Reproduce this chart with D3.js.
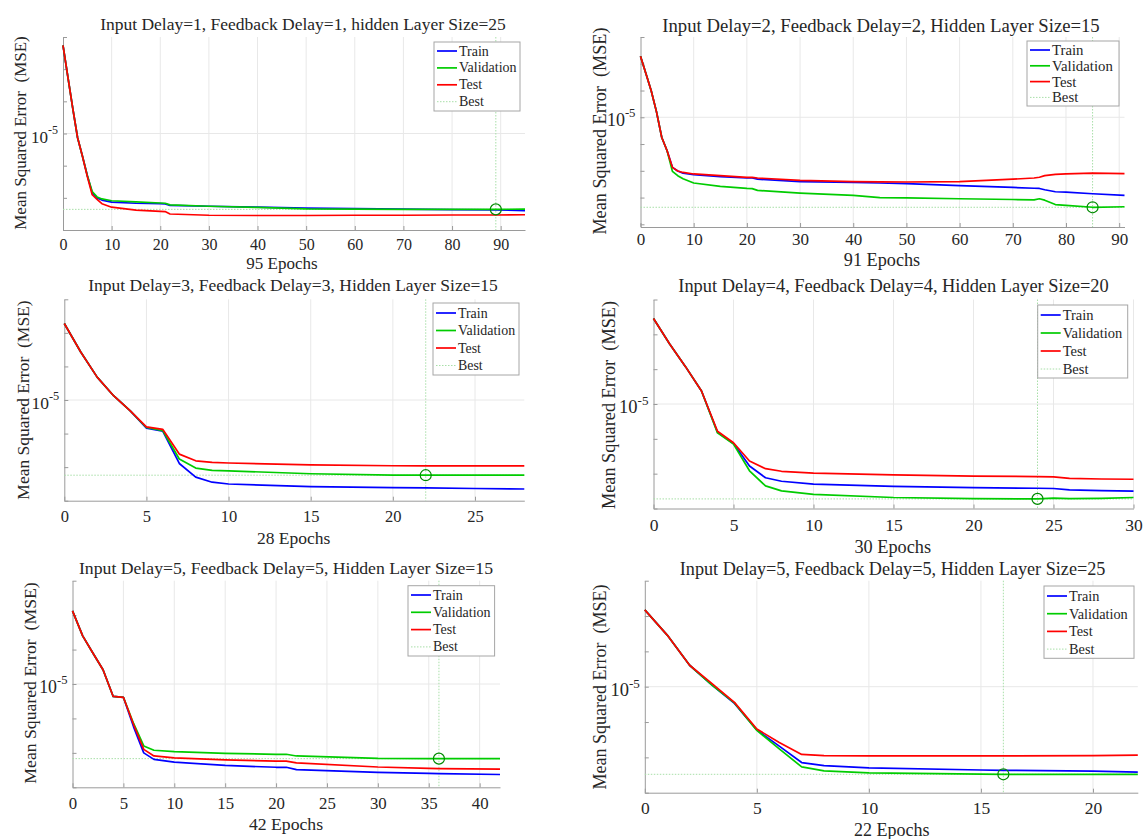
<!DOCTYPE html>
<html>
<head>
<meta charset="utf-8">
<script src="https://cdn.jsdelivr.net/npm/d3@7"></script>
<style>
  body { margin: 0; background: #fff; }
  text { font-family: "Liberation Serif", "Times New Roman", serif; fill: #262626; }
</style>
</head>
<body>
<svg id="chart" width="1145" height="839"></svg>
<script>
// MSE values are written in units of 1e-6
const UNIT = 1e-6;

const titles = [
  'Input Delay=1, Feedback Delay=1, hidden Layer Size=25',
  'Input Delay=2, Feedback Delay=2, Hidden Layer Size=15',
  'Input Delay=3, Feedback Delay=3, Hidden Layer Size=15',
  'Input Delay=4, Feedback Delay=4, Hidden Layer Size=20',
  'Input Delay=5, Feedback Delay=5, Hidden Layer Size=15',
  'Input Delay=5, Feedback Delay=5, Hidden Layer Size=25'
];
const epochCounts = [95, 91, 28, 30, 42, 22];
const bestEpochs = [89, 85, 22, 24, 36, 16];
const xTickSteps = [10, 10, 5, 5, 5, 5];
// log10 limits of each y axis
const yExpLimits = [[-5.3, -4.7], [-5.41, -4.7], [-5.3, -4.7], [-5.3, -4.7], [-5.3, -4.7], [-5.3, -4.7]];
const seriesNames = ['Train', 'Validation', 'Test', 'Best'];

const p1Epochs = [0,1,2,3,4,5,6,7,8,10,15,20,21,22,30,40,50,60,70,80,89,95];
const p1Train  = [18.8,15.0,12.0,9.7,8.5,7.4,6.55,6.3,6.21,6.12,6.07,6.05,6.04,5.98,5.94,5.90,5.86,5.84,5.82,5.80,5.79,5.76];
const p1Val    = [18.8,15.0,12.0,9.7,8.5,7.4,6.6,6.35,6.26,6.18,6.13,6.08,6.07,6.00,5.94,5.89,5.83,5.82,5.81,5.81,5.81,5.82];
const p1Test   = [18.8,15.0,12.0,9.7,8.5,7.35,6.45,6.24,6.05,5.90,5.78,5.73,5.72,5.62,5.57,5.56,5.56,5.57,5.57,5.58,5.58,5.59];

const p2Epochs = [0,1,2,3,4,5,6,7,8,10,15,20,21,22,30,40,45,50,60,70,74,75,76,78,80,85,91];
const p2Train  = [16.9,14.6,12.6,10.5,8.4,7.5,6.5,6.3,6.18,6.10,6.00,5.93,5.93,5.87,5.75,5.71,5.68,5.65,5.55,5.47,5.43,5.42,5.36,5.27,5.25,5.18,5.11];
const p2Val    = [16.9,14.6,12.6,10.5,8.4,7.5,6.28,6.05,5.89,5.68,5.52,5.42,5.41,5.33,5.21,5.11,5.01,5.00,4.96,4.93,4.91,4.96,4.90,4.72,4.69,4.61,4.63];
const p2Test   = [16.9,14.6,12.6,10.5,8.4,7.5,6.5,6.3,6.22,6.14,6.05,5.96,5.96,5.93,5.81,5.75,5.74,5.73,5.75,5.87,5.93,5.97,6.05,6.12,6.15,6.18,6.16];

const p3Epochs = [0,1,2,3,4,5,6,7,8,9,10,15,20,22,25,28];
const p3Train  = [16.9,13.9,11.7,10.3,9.3,8.25,8.07,6.47,5.89,5.69,5.62,5.52,5.48,5.47,5.45,5.43];
const p3Val    = [16.9,13.9,11.7,10.3,9.3,8.28,8.10,6.67,6.27,6.17,6.15,6.03,5.97,5.97,5.97,5.97];
const p3Test   = [16.9,13.9,11.7,10.3,9.3,8.32,8.17,6.90,6.59,6.52,6.49,6.41,6.37,6.36,6.36,6.36];

const p4Epochs = [0,1,2,3,4,5,6,7,8,10,15,20,24,25,26,28,30];
const p4Train  = [17.6,14.9,12.8,10.9,8.3,7.7,6.64,6.14,6.0,5.89,5.8,5.75,5.73,5.72,5.67,5.64,5.62];
const p4Val    = [17.6,14.9,12.8,10.9,8.26,7.67,6.43,5.82,5.63,5.5,5.39,5.35,5.34,5.37,5.35,5.36,5.39];
const p4Test   = [17.6,14.9,12.8,10.9,8.35,7.74,6.86,6.52,6.41,6.33,6.26,6.21,6.19,6.18,6.12,6.09,6.08];

const p5Epochs = [0,1,2,3,4,5,6,7,8,10,15,20,21,22,30,35,36,42];
const p5Train  = [16.3,13.8,12.3,11.0,9.2,9.15,7.51,6.31,6.04,5.93,5.80,5.73,5.73,5.64,5.54,5.50,5.49,5.46];
const p5Val    = [16.3,13.8,12.3,11.0,9.2,9.15,7.68,6.61,6.42,6.36,6.29,6.25,6.25,6.18,6.08,6.07,6.07,6.07];
const p5Test   = [16.3,13.8,12.3,11.0,9.2,9.15,7.63,6.46,6.18,6.10,6.02,5.97,5.97,5.90,5.74,5.69,5.68,5.66];

const p6Epochs = [0,1,2,3,4,5,6,7,8,10,15,16,20,22];
const p6Train  = [16.5,14.0,11.5,10.1,8.97,7.54,6.79,6.10,5.98,5.89,5.81,5.80,5.77,5.73];
const p6Val    = [16.5,14.0,11.5,10.1,9.0,7.52,6.67,5.93,5.78,5.70,5.66,5.65,5.65,5.65];
const p6Test   = [16.5,14.0,11.5,10.2,9.03,7.59,6.95,6.43,6.38,6.37,6.37,6.37,6.38,6.40];

const allEpochs = [p1Epochs, p2Epochs, p3Epochs, p4Epochs, p5Epochs, p6Epochs];
const allTrain = [p1Train, p2Train, p3Train, p4Train, p5Train, p6Train];
const allVal = [p1Val, p2Val, p3Val, p4Val, p5Val, p6Val];
const allTest = [p1Test, p2Test, p3Test, p4Test, p5Test, p6Test];

// page layout of each sub-plot (pixels)
const layout = [
  {l: 63,   t: 37,  r: 525,  b: 230, titleX: 303, titleY: 24,  titleFs: 17.5, fs: 16, labFs: 17, tickY: 244, labX: 282, labY: 263.5, yLabX: 20,  yLabY: 133,
   leg: {x: 434, y: 42, w: 86, h: 69, row0: 51, step: 16.9, fs: 14}},
  {l: 640.5, t: 37, r: 1124.5, b: 227, titleX: 881, titleY: 25, titleFs: 18.7, fs: 17, labFs: 18.2, tickY: 239.5, labX: 882, labY: 259.5, yLabX: 600, yLabY: 131,
   leg: {x: 1027, y: 41, w: 92, h: 65, row0: 50, step: 15.8, fs: 14.8}},
  {l: 64.3, t: 299.3, r: 524.3, b: 500.7, titleX: 293, titleY: 285, titleFs: 17.5, fs: 16.5, labFs: 17.5, tickY: 516.7, labX: 293.6, labY: 538, yLabX: 23, yLabY: 400,
   leg: {x: 433, y: 303, w: 86, h: 72, row0: 313, step: 17.5, fs: 13.9}},
  {l: 653.5, t: 299.5, r: 1133.5, b: 508.5, titleX: 893.5, titleY: 286, titleFs: 18.4, fs: 17.5, labFs: 18.3, tickY: 525, labX: 892.8, labY: 547, yLabX: 609, yLabY: 405,
   leg: {x: 1037.7, y: 305, w: 90, h: 73, row0: 315, step: 18, fs: 14.5}},
  {l: 72.5, t: 580.7, r: 500, b: 787.3, titleX: 286, titleY: 568, titleFs: 17.7, fs: 16.8, labFs: 17.7, tickY: 802.7, labX: 286, labY: 824, yLabX: 30, yLabY: 683,
   leg: {x: 408, y: 585.7, w: 86.6, h: 70.3, row0: 595, step: 17.3, fs: 14}},
  {l: 644.8, t: 580.7, r: 1137.8, b: 792.7, titleX: 892.6, titleY: 569, titleFs: 18.2, fs: 17.5, labFs: 18, tickY: 808, labX: 891.7, labY: 830, yLabX: 600, yLabY: 687,
   leg: {x: 1044, y: 586, w: 90, h: 72.3, row0: 596, step: 17.7, fs: 14.3}}
];

const colors = {Train: '#0000ff', Validation: '#00cc00', Test: '#ff0000', Best: '#a8dfa8'};
const svg = d3.select('#chart');

layout.forEach((p, i) => {
  const g = svg.append('g');
  const x = d3.scaleLinear().domain([0, epochCounts[i]]).range([p.l, p.r]);
  const [e0, e1] = yExpLimits[i];
  const y = d3.scaleLog().domain([Math.pow(10, e0), Math.pow(10, e1)]).range([p.b, p.t]);

  const xTicks = d3.range(0, epochCounts[i] + 0.001, xTickSteps[i]);
  const yTicks = d3.range(Math.ceil(e0 * 10 - 1e-6), Math.floor(e1 * 10 + 1e-6) + 1).map(k => Math.pow(10, k / 10));

  // grid
  g.selectAll('.vgrid').data(xTicks.filter(d => d > 0)).join('line')
    .attr('x1', d => x(d)).attr('x2', d => x(d)).attr('y1', p.t).attr('y2', p.b)
    .attr('stroke', '#e8e8e8').attr('stroke-width', 1);
  g.append('line').attr('x1', p.l).attr('x2', p.r).attr('y1', y(1e-5)).attr('y2', y(1e-5))
    .attr('stroke', '#e8e8e8').attr('stroke-width', 1);

  // axes
  const xAxis = d3.axisBottom(x).tickValues(xTicks).tickSizeInner(-4).tickSizeOuter(0).tickFormat(d3.format('d'));
  const xg = g.append('g').attr('transform', `translate(0,${p.b})`).call(xAxis);
  xg.select('.domain').attr('stroke', '#9a9a9a');
  xg.selectAll('.tick line').attr('stroke', '#9a9a9a');
  xg.selectAll('.tick text').attr('y', p.tickY - p.b).attr('dy', '0.35em')
    .style('font-size', p.fs + 'px').style('font-family', '"Liberation Serif", serif').attr('fill', '#262626');

  const yAxis = d3.axisLeft(y).tickValues(yTicks).tickSizeInner(-4).tickSizeOuter(0).tickFormat('');
  const yg = g.append('g').attr('transform', `translate(${p.l},0)`).call(yAxis);
  yg.select('.domain').attr('stroke', '#9a9a9a');
  yg.selectAll('.tick line').attr('stroke', '#9a9a9a');

  const lab = g.append('text').attr('x', p.l - 5).attr('y', y(1e-5) + 3).attr('text-anchor', 'end')
    .attr('dominant-baseline', 'central').style('font-size', (p.fs + 1) + 'px');
  lab.append('tspan').text('10');
  lab.append('tspan').attr('dy', -7).style('font-size', (p.fs * 0.75) + 'px').text('-5');

  // best markers
  const best = bestEpochs[i];
  const bestVal = allVal[i][allEpochs[i].indexOf(best)] * UNIT;
  g.append('line').attr('x1', x(best)).attr('x2', x(best)).attr('y1', p.t).attr('y2', p.b)
    .attr('stroke', colors.Best).attr('stroke-width', 1).attr('stroke-dasharray', '1.5,1.5');
  g.append('line').attr('x1', p.l).attr('x2', p.r).attr('y1', y(bestVal)).attr('y2', y(bestVal))
    .attr('stroke', colors.Best).attr('stroke-width', 1).attr('stroke-dasharray', '1.5,1.5');

  // series
  const line = d3.line().x(d => x(d[0])).y(d => y(d[1] * UNIT));
  [['Train', allTrain[i]], ['Validation', allVal[i]], ['Test', allTest[i]]].forEach(([name, vals]) => {
    g.append('path').datum(allEpochs[i].map((e, j) => [e, vals[j]]))
      .attr('d', line).attr('fill', 'none').attr('stroke', colors[name]).attr('stroke-width', 1.7)
      .attr('stroke-linejoin', 'round');
  });

  g.append('circle').attr('cx', x(best)).attr('cy', y(bestVal)).attr('r', 5.5)
    .attr('fill', 'none').attr('stroke', '#008a00').attr('stroke-width', 1.2);

  // texts
  g.append('text').attr('x', p.titleX).attr('y', p.titleY).attr('text-anchor', 'middle')
    .attr('dominant-baseline', 'central').style('font-size', p.titleFs + 'px').attr('fill', '#000').text(titles[i]);
  g.append('text').attr('x', p.labX).attr('y', p.labY).attr('text-anchor', 'middle')
    .attr('dominant-baseline', 'central').style('font-size', p.labFs + 'px').text(epochCounts[i] + ' Epochs');
  g.append('text').attr('transform', `translate(${p.yLabX},${p.yLabY}) rotate(-90)`)
    .attr('text-anchor', 'middle').attr('dominant-baseline', 'central')
    .style('font-size', p.labFs + 'px').style('white-space', 'pre').text('Mean Squared Error  (MSE)');

  // legend
  const L = p.leg;
  const lg = g.append('g');
  lg.append('rect').attr('x', L.x).attr('y', L.y).attr('width', L.w).attr('height', L.h)
    .attr('fill', '#fff').attr('stroke', '#a6a6a6').attr('stroke-width', 1);
  seriesNames.forEach((name, k) => {
    const ry = L.row0 + k * L.step;
    lg.append('line').attr('x1', L.x + 3).attr('x2', L.x + 23).attr('y1', ry).attr('y2', ry)
      .attr('stroke', colors[name]).attr('stroke-width', name === 'Best' ? 1 : 1.7)
      .attr('stroke-dasharray', name === 'Best' ? '1.5,1.5' : null);
    lg.append('text').attr('x', L.x + 25).attr('y', ry).attr('dominant-baseline', 'central')
      .style('font-size', L.fs + 'px').attr('fill', '#000').text(name);
  });
});
</script>
</body>
</html>
